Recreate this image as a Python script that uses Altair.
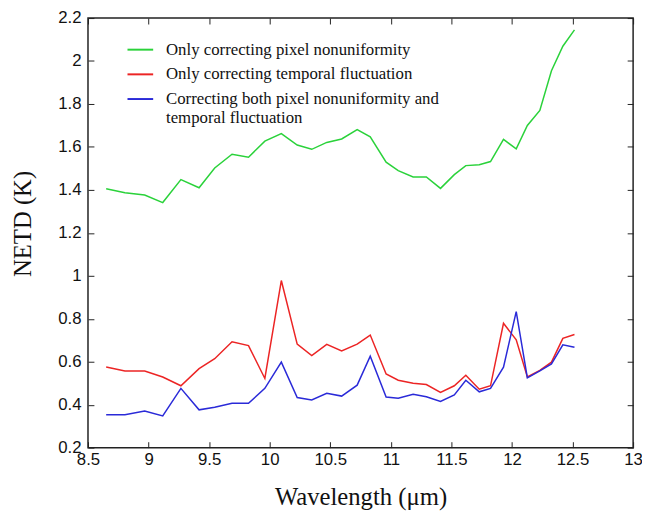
import altair as alt
import pandas as pd

wavelength = [8.65, 8.805, 8.968, 9.117, 9.267, 9.417, 9.546, 9.689, 9.825, 9.96,
              10.096, 10.227, 10.347, 10.471, 10.594, 10.722, 10.83, 10.961, 11.061, 11.184,
              11.293, 11.41, 11.524, 11.619, 11.73, 11.823, 11.93, 12.035, 12.127, 12.23,
              12.326, 12.42, 12.516]
pixel_only = [1.405, 1.387, 1.376, 1.341, 1.448, 1.41, 1.502, 1.566, 1.552, 1.627,
              1.662, 1.609, 1.589, 1.621, 1.637, 1.681, 1.647, 1.529, 1.49, 1.46,
              1.46, 1.407, 1.471, 1.513, 1.517, 1.532, 1.635, 1.591, 1.70, 1.77,
              1.955, 2.069, 2.145]
temporal_only = [0.575, 0.557, 0.557, 0.529, 0.488, 0.568, 0.614, 0.693, 0.675, 0.522,
                 0.978, 0.682, 0.629, 0.681, 0.650, 0.682, 0.724, 0.543, 0.514, 0.500,
                 0.494, 0.457, 0.488, 0.537, 0.472, 0.488, 0.779, 0.702, 0.529, 0.560,
                 0.598, 0.709, 0.727]
both = [0.353, 0.353, 0.371, 0.348, 0.476, 0.376, 0.388, 0.407, 0.407, 0.476,
        0.598, 0.433, 0.422, 0.453, 0.440, 0.491, 0.626, 0.436, 0.430, 0.448,
        0.437, 0.415, 0.445, 0.514, 0.460, 0.476, 0.575, 0.833, 0.525, 0.557,
        0.590, 0.679, 0.667]

series_names = ["Only correcting pixel nonuniformity",
                "Only correcting temporal fluctuation",
                "Correcting both pixel nonuniformity and|temporal fluctuation"]
series_colors = ["#2ad23a", "#ec2424", "#2a2ad8"]
x_ticks = [8.5, 9, 9.5, 10, 10.5, 11, 11.5, 12, 12.5, 13]
y_ticks = [0.2, 0.4, 0.6, 0.8, 1.0, 1.2, 1.4, 1.6, 1.8, 2.0, 2.2]

rows = []
for name, vals in zip(series_names, [pixel_only, temporal_only, both]):
    for w, v in zip(wavelength, vals):
        rows.append({"wavelength": w, "series": name, "netd": v})
df = pd.DataFrame(rows)

xscale = alt.Scale(domain=[8.5, 13], nice=False, zero=False)
yscale = alt.Scale(domain=[0.2, 2.2], nice=False, zero=False)

label_font = "Liberation Sans"
serif = "Liberation Serif"

main = alt.Chart(df).mark_line(strokeWidth=1.5).encode(
    x=alt.X("wavelength:Q", scale=xscale,
            axis=alt.Axis(orient="bottom", values=x_ticks, format="~g", title="Wavelength (μm)",
                          offset=-6, tickSize=6, domain=False, grid=False,
                          labelPadding=4, labelFont=label_font, labelFontSize=17,
                          labelColor="#111", tickColor="#222",
                          titleFont=serif, titleFontSize=25, titleFontWeight="normal",
                          titleColor="#111", titlePadding=18, labelFlush=False)),
    y=alt.Y("netd:Q", scale=yscale,
            axis=alt.Axis(orient="left", values=y_ticks, format="~g", title="NETD (K)",
                          offset=-6, tickSize=6, domain=False, grid=False,
                          labelPadding=7, labelFont=label_font, labelFontSize=17,
                          labelColor="#111", tickColor="#222",
                          titleFont=serif, titleFontSize=25, titleFontWeight="normal",
                          titleColor="#111", titlePadding=23, titleY=208, labelFlush=False)),
    color=alt.Color("series:N",
                    scale=alt.Scale(domain=series_names, range=series_colors),
                    sort=series_names,
                    legend=alt.Legend(title=None, orient="none", legendX=39, legendY=18,
                                      symbolType="stroke", symbolStrokeWidth=2,
                                      symbolSize=676, labelFont=serif, labelFontSize=17,
                                      labelColor="#111", labelOffset=12, labelLimit=500,
                                      rowPadding=3, padding=0,
                                      labelExpr="split(datum.label, '|')")),
    detail="series:N",
)

frame = alt.Chart(df).mark_line(opacity=0).encode(
    x=alt.X("wavelength:Q", scale=xscale,
            axis=alt.Axis(orient="top", values=x_ticks, title=None, labels=False,
                          offset=-6, tickSize=6, domain=False, grid=False, tickColor="#222")),
    y=alt.Y("netd:Q", scale=yscale,
            axis=alt.Axis(orient="right", values=y_ticks, title=None, labels=False,
                          offset=-6, tickSize=6, domain=False, grid=False, tickColor="#222")),
    detail="series:N",
)

chart = alt.layer(main, frame).resolve_axis(x="independent", y="independent").properties(
    width=552, height=435,
    autosize=alt.AutoSizeParams(type="none"),
    padding={"left": 81, "top": 7, "right": 9, "bottom": 64},
    background="white",
).configure_view(stroke="#222", strokeWidth=1.5)

chart.save("out.html", embed_options={"renderer": "svg", "actions": False})
